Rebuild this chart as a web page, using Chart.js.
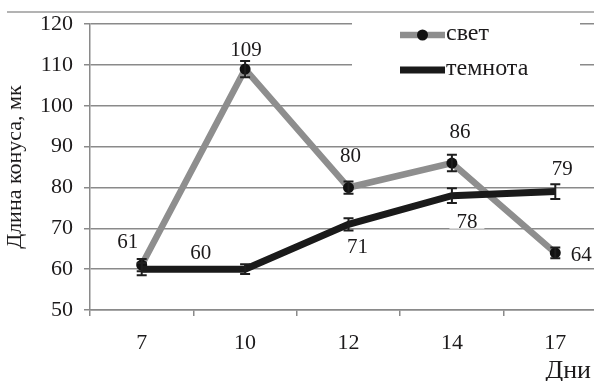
<!DOCTYPE html>
<html>
<head>
<meta charset="utf-8">
<script src="https://cdn.jsdelivr.net/npm/chart.js@4/dist/chart.umd.min.js"></script>
<style>
  html, body { margin: 0; padding: 0; background: #fff; overflow: hidden; width: 594px; height: 381px; }
  #wrap { width: 620px; height: 381px; position: relative; }
</style>
</head>
<body>
<div id="wrap"><canvas id="c" width="620" height="381"></canvas></div>
<script>
// Cone length by day, light vs darkness
const days = ['7', '10', '12', '14', '17'];
const light = [61, 109, 80, 86, 64];
const dark = [60, 60, 71, 78, 79];
const lightErr = [1.5, 2, 1.5, 2, 1.3];
const darkErr = [1.5, 1.2, 1.5, 1.8, 1.8];
const yTicks = [50, 60, 70, 80, 90, 100, 110, 120];
const seriesNames = ['свет', 'темнота'];
const yTitle = 'Длина конуса, мк';
const xTitle = 'Дни';

// where each value label sits relative to its point (px); null = no label
const lightLabelShift = [[-14, -24], [1, -20], [2, -32], [8, -32], [26, 2]];
const darkLabelShift = [[59, -17], null, [9, 22], [15, 26], [7, -23]];

const SERIF = '"Liberation Serif", "DejaVu Serif", serif';
const TEXT = '#1c1a1b';
const GRID = '#8a8a8a';
const GREY_LINE = '#8e8e8e';
const BLACK_LINE = '#1a1a1a';

const decorations = {
  id: 'decorations',
  beforeDraw(chart) {
    const ctx = chart.ctx;
    ctx.save();
    ctx.strokeStyle = '#9a9a9a';
    ctx.lineWidth = 1.5;
    ctx.beginPath();
    ctx.moveTo(7, 12);
    ctx.lineTo(chart.width, 12);
    ctx.stroke();
    ctx.restore();
  },
  afterDatasetsDraw(chart) {
    const ctx = chart.ctx;
    const y = chart.scales.y;
    ctx.save();

    // error bars
    chart.data.datasets.forEach((ds, di) => {
      const meta = chart.getDatasetMeta(di);
      ds.data.forEach((v, i) => {
        const px = meta.data[i].x;
        const top = y.getPixelForValue(v + ds.err[i]);
        const bot = y.getPixelForValue(v - ds.err[i]);
        ctx.strokeStyle = '#1e1e1e';
        ctx.lineWidth = 2;
        ctx.beginPath();
        ctx.moveTo(px, top); ctx.lineTo(px, bot);
        ctx.moveTo(px - 5, top); ctx.lineTo(px + 5, top);
        ctx.moveTo(px - 5, bot); ctx.lineTo(px + 5, bot);
        ctx.stroke();
      });
    });

    // value labels
    ctx.font = '21px ' + SERIF;
    ctx.textAlign = 'center';
    ctx.textBaseline = 'middle';
    const shifts = [lightLabelShift, darkLabelShift];
    chart.data.datasets.forEach((ds, di) => {
      const meta = chart.getDatasetMeta(di);
      ds.data.forEach((v, i) => {
        const s = shifts[di][i];
        if (!s) return;
        const cx = meta.data[i].x + s[0];
        const cy = meta.data[i].y + s[1];
        const txt = String(v);
        const w = ctx.measureText(txt).width;
        ctx.fillStyle = '#fff';
        ctx.fillRect(cx - w / 2 - 7, cy - 7, w + 14, 14);
        ctx.fillStyle = TEXT;
        ctx.fillText(txt, cx, cy + 1);
      });
    });

    // legend box
    ctx.fillStyle = '#fff';
    ctx.fillRect(352, 14, 228, 68);
    const rows = [35, 70];
    chart.data.datasets.forEach((ds, di) => {
      const ry = rows[di];
      ctx.strokeStyle = ds.borderColor;
      ctx.lineWidth = ds.borderWidth;
      ctx.beginPath();
      ctx.moveTo(400, ry); ctx.lineTo(445, ry);
      ctx.stroke();
      if (ds.pointRadius > 0) {
        ctx.fillStyle = ds.pointBackgroundColor;
        ctx.beginPath();
        ctx.arc(422.5, ry, ds.pointRadius, 0, Math.PI * 2);
        ctx.fill();
      }
      ctx.fillStyle = TEXT;
      ctx.font = '24px ' + SERIF;
      ctx.textAlign = 'left';
      ctx.textBaseline = 'middle';
      ctx.fillText(ds.label, 446, ry - 1);
    });

    // x axis title
    ctx.font = '26px ' + SERIF;
    ctx.textAlign = 'right';
    ctx.textBaseline = 'alphabetic';
    ctx.fillStyle = TEXT;
    ctx.fillText(xTitle, 591, 378);
    ctx.restore();
  }
};

new Chart(document.getElementById('c'), {
  type: 'line',
  data: {
    labels: days,
    datasets: [
      {
        label: seriesNames[0], data: light, err: lightErr,
        borderColor: GREY_LINE, borderWidth: 6.5,
        pointRadius: 5.5, pointBackgroundColor: '#111', pointBorderWidth: 0,
        tension: 0, order: 1
      },
      {
        label: seriesNames[1], data: dark, err: darkErr,
        borderColor: BLACK_LINE, borderWidth: 7,
        pointRadius: 0, tension: 0, order: 0
      }
    ]
  },
  options: {
    responsive: false,
    animation: false,
    devicePixelRatio: 1,
    layout: { padding: { left: 0, right: 13, top: 20, bottom: 0 } },
    plugins: { legend: { display: false }, tooltip: { enabled: false } },
    scales: {
      x: {
        offset: true,
        grid: { display: true, drawOnChartArea: false, offset: true, tickLength: 6, color: GRID, lineWidth: 1.5 },
        border: { display: true, color: GRID, width: 1.5 },
        ticks: { color: TEXT, font: { family: SERIF, size: 22 }, padding: 14 },
        afterFit(s) { s.height = 71; }
      },
      y: {
        min: 50, max: 120,
        afterBuildTicks(s) { s.ticks = yTicks.map(v => ({ value: v })); },
        grid: { color: GRID, lineWidth: 1.5, tickLength: 6 },
        border: { display: true, color: GRID, width: 1.5 },
        ticks: { color: TEXT, font: { family: SERIF, size: 22 }, padding: 11 },
        title: { display: true, text: yTitle, color: TEXT, font: { family: SERIF, size: 22 }, padding: { top: 2, bottom: 0 } },
        afterFit(s) { s.width = 90; }
      }
    }
  },
  plugins: [decorations]
});
</script>
</body>
</html>
